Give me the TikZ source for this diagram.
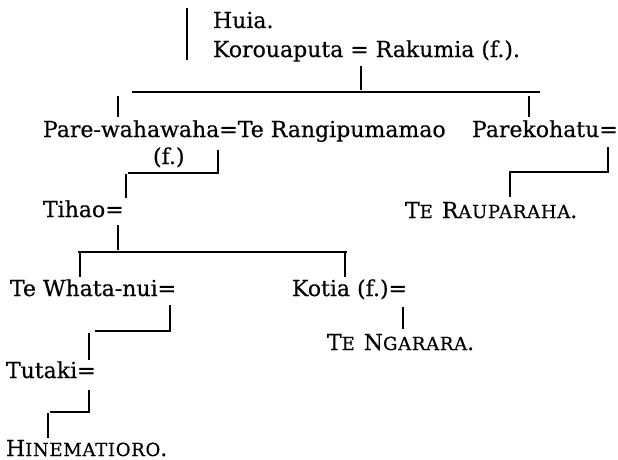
\documentclass[tikz,border=0pt]{standalone}
\usepackage{fontspec}
\setmainfont{DejaVu Serif}[FakeBold=0.5]
\newcommand\mysc[1]{{\fontsize{18}{20}\selectfont\addfontfeature{LetterSpace=4}#1}}
\newcommand\scgap{\hspace{9pt}}
\begin{document}
\begin{tikzpicture}[x=1pt,y=-1pt,
  gname/.style={anchor=base west,inner sep=0pt,outer sep=0pt,font=\fontsize{22}{26}\selectfont},
  gline/.style={line width=1.6pt,black}]
\useasboundingbox[fill=white] (0,0) rectangle (618,460);
% texts
\node[gname] (huia) at (213,28) {Huia.};
\node[gname] (koro) at (213,57) {Korouaputa = Rakumia (f.).};
\node[gname] (pare) at (43,137) {Pare-wahawaha=Te Rangipumamao};
\node[gname] (parek) at (472,137) {Parekohatu=};
\node[gname] (f1) at (153,164) {(f.)};
\node[gname] (tihao) at (43,217) {Tihao=};
\node[gname] (rau) at (405,218) {T\mysc{E}\scgap R\mysc{AUPARAHA}.};
\node[gname] (whata) at (10,296) {Te Whata-nui=};
\node[gname] (kotia) at (292,296) {Kotia (f.)=};
\node[gname] (ngar) at (327,350) {T\mysc{E}\scgap N\mysc{GARARA}.};
\node[gname] (tutaki) at (6,378) {Tutaki=};
\node[gname] (hine) at (6,456) {H\mysc{INEMATIORO}.};
% coordinates
\coordinate (b1) at (187,8);   \coordinate (b2) at (187,60);
\coordinate (k1) at (361,66);  \coordinate (k2) at (361,90);
\coordinate (h1) at (132,92);  \coordinate (h2) at (540,92);
\coordinate (l1) at (118,96);  \coordinate (l2) at (118,117);
\coordinate (r1) at (529,96);  \coordinate (r2) at (529,117);
\coordinate (p1) at (218,150); \coordinate (p2) at (218,173);
\coordinate (p3) at (128,173); \coordinate (p4) at (126,174); \coordinate (p5) at (126,198);
\coordinate (q1) at (608,147); \coordinate (q2) at (608,172);
\coordinate (q3) at (510,172); \coordinate (q4) at (510,197);
\coordinate (t1) at (118,225); \coordinate (t2) at (118,250);
\coordinate (s1) at (78,252);  \coordinate (s2) at (347,252);
\coordinate (s3) at (80,253);  \coordinate (s4) at (80,277);
\coordinate (s5) at (345,253); \coordinate (s6) at (345,277);
\coordinate (w1) at (170,305); \coordinate (w2) at (170,331);
\coordinate (w3) at (95,331);  \coordinate (w4) at (89,333); \coordinate (w5) at (89,360);
\coordinate (c1) at (403,307); \coordinate (c2) at (403,329);
\coordinate (u1) at (89,390);  \coordinate (u2) at (89,412);
\coordinate (u3) at (50,412);  \coordinate (u4) at (48,413); \coordinate (u5) at (48,438);
% lines
\draw[gline] (b1) -- (b2);
\draw[gline] (k1) -- (k2);
\draw[gline] (h1) -- (h2);
\draw[gline] (l1) -- (l2);
\draw[gline] (r1) -- (r2);
\draw[gline] (p1) -- (p2) -- (p3);
\draw[gline] (p4) -- (p5);
\draw[gline] (q1) -- (q2) -- (q3) -- (q4);
\draw[gline] (t1) -- (t2);
\draw[gline] (s1) -- (s2);
\draw[gline] (s3) -- (s4);
\draw[gline] (s5) -- (s6);
\draw[gline] (w1) -- (w2) -- (w3);
\draw[gline] (w4) -- (w5);
\draw[gline] (c1) -- (c2);
\draw[gline] (u1) -- (u2) -- (u3);
\draw[gline] (u4) -- (u5);
\end{tikzpicture}
\end{document}
